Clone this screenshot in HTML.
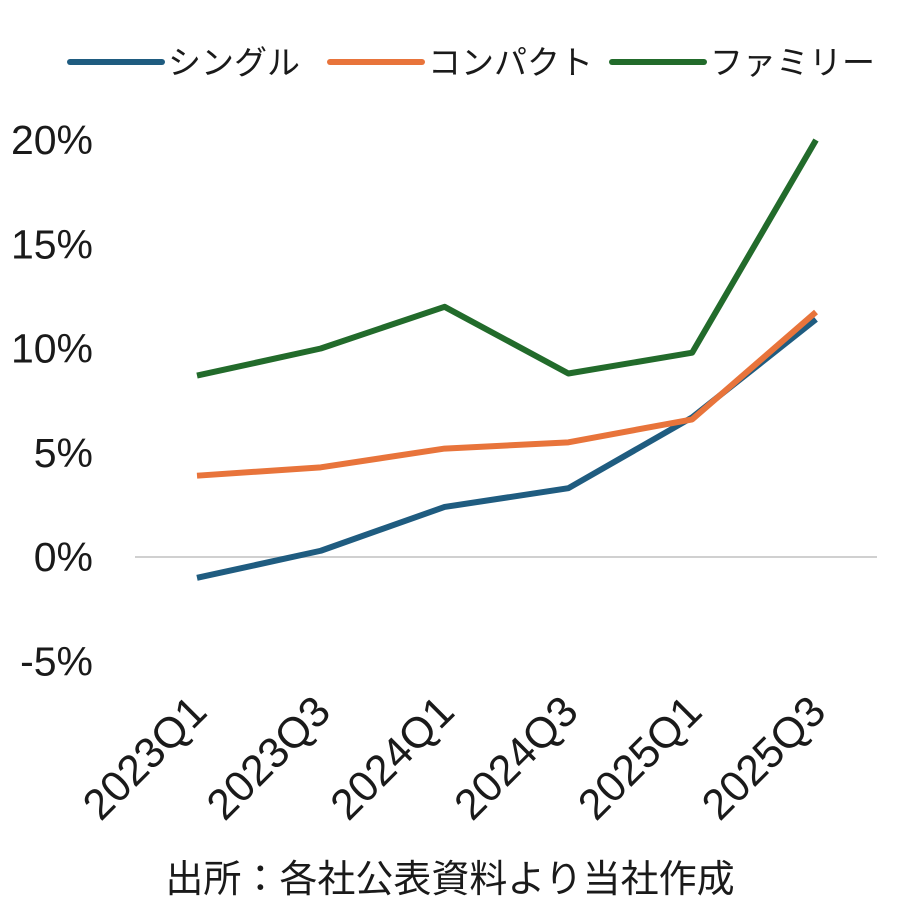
<!DOCTYPE html>
<html><head><meta charset="utf-8"><style>
body{margin:0;background:#fff;}
svg text{font-family:"Liberation Sans","Noto Sans CJK JP",sans-serif;fill:#1a1a1a;}
</style></head><body>
<svg id="chart" width="900" height="900" viewBox="0 0 900 900" xmlns="http://www.w3.org/2000/svg">
<g id="legend"></g>
<g id="yaxis"></g>
<g id="xaxis"></g>
<g id="plot"></g>
<text x="450" y="892" text-anchor="middle" font-size="38">出所：各社公表資料より当社作成</text>
</svg>
<script>
const categories=["2023Q1","2023Q3","2024Q1","2024Q3","2025Q1","2025Q3"];
const seriesNames=["シングル","コンパクト","ファミリー"];
const singleValues=[-1.0,0.3,2.4,3.3,6.7,11.4];
const compactValues=[3.9,4.3,5.2,5.5,6.6,11.75];
const familyValues=[8.7,10.0,12.0,8.8,9.8,20.0];
const yTicks=[20,15,10,5,0,-5];
const colors=["#1f5c80","#e8743b","#226b2b"];
const NS="http://www.w3.org/2000/svg";
function y(v){return 557-v*20.85;}
function x(i){return 197+i*123.8;}
function mk(t,a,p){const e=document.createElementNS(NS,t);for(const k in a)e.setAttribute(k,a[k]);p.appendChild(e);return e;}
const ya=document.getElementById('yaxis'),xa=document.getElementById('xaxis'),pl=document.getElementById('plot'),lg=document.getElementById('legend');
const grid=mk('line',{x1:135,x2:877,y1:y(0),y2:y(0),stroke:'#d0d0d0','stroke-width':2},pl);


yTicks.forEach(t=>{const e=mk('text',{x:93,y:y(t)+14,'text-anchor':'end','font-size':41},ya);e.textContent=t+'%';

});
categories.forEach((c,i)=>{const e=mk('text',{x:0,y:0,'text-anchor':'end','font-size':43,transform:`translate(${x(i)+12},714) rotate(-45)`},xa);e.textContent=c;

});
[singleValues,compactValues,familyValues].forEach((vals,s)=>{
const p=mk('polyline',{points:vals.map((v,i)=>x(i)+','+y(v)).join(' '),fill:'none',stroke:colors[s],'stroke-width':6,'stroke-linejoin':'round'},pl);


});
const lx=[70,330,612];
seriesNames.forEach((n,s)=>{
const g=mk('g',{},lg);


mk('line',{x1:lx[s],x2:lx[s]+92,y1:62,y2:62,stroke:colors[s],'stroke-width':6,'stroke-linecap':'round'},g);
const t=mk('text',{x:lx[s]+98,y:74,'font-size':33},g);t.textContent=n;
});
</script>
</body></html>
